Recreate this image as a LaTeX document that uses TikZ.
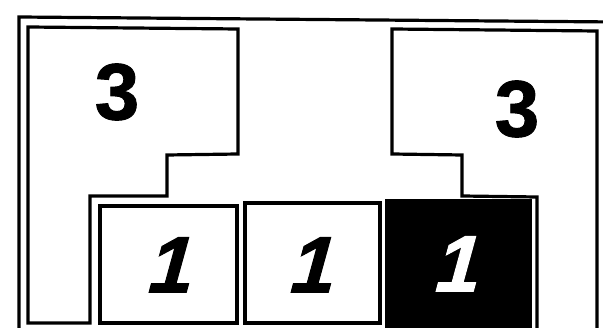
\documentclass[tikz,border=0pt]{standalone}
\usepackage{fontspec}
\setmainfont{Liberation Sans}
\newfontfamily\heavy[FakeBold=1.2]{Liberation Sans Bold}
\newfontfamily\heavyit[FakeBold=1.2,FakeSlant=0.08]{Liberation Sans Bold Italic}
\begin{document}
\begin{tikzpicture}[x=1pt,y=-1pt,
  wall/.style={draw=black,line width=3.2pt,line join=miter},
  numb/.style={font=\fontsize{80}{80}\heavy,inner sep=0pt,anchor=center},
  numi/.style={font=\fontsize{80}{80}\heavyit,inner sep=0pt,anchor=center}]
\useasboundingbox (0,0) rectangle (603,328);
\clip (0,0) rectangle (603,328);
% outer frame
\draw[wall] (19,340) -- (19,17) -- (615,22) -- (615,340);
% left region 3
\draw[wall] (28,27) -- (238,29) -- (238,154) -- (167,155) -- (167,196) -- (90,196) -- (90,323) -- (28,323) -- cycle;
% right region 3
\draw[wall] (392,29) -- (597,31) -- (597,340) -- (537,340) -- (537,197) -- (462,196) -- (462,155) -- (392,154) -- cycle;
% boxes 1
\draw[wall] (100,206) rectangle (237,323);
\draw[wall] (245,203) rectangle (380,323);
\draw[wall,fill=black] (387,201) rectangle (530,330);
% labels
\node[numb] (l3) at (117,92) {3};
\node[numb] (r3) at (517,109) {3};
\node[numi] (a1) at (170,265) {1};
\node[numi] (b1) at (312,265) {1};
\node[numi,text=white] (c1) at (457,264) {1};
\end{tikzpicture}
\end{document}
